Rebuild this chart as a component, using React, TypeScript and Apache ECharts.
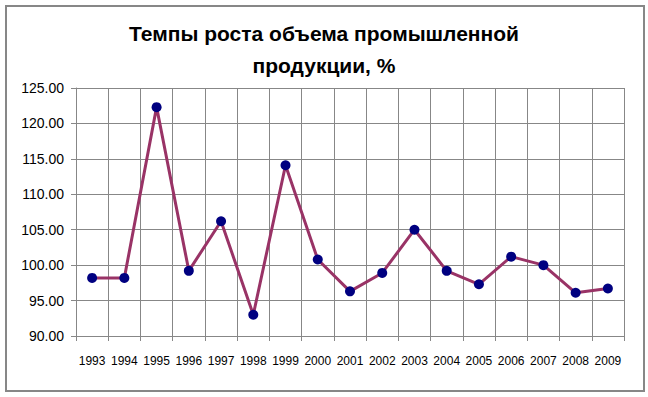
import React, { useEffect, useRef } from "react";
import * as echarts from "echarts";

const years = ["1993","1994","1995","1996","1997","1998","1999","2000","2001","2002","2003","2004","2005","2006","2007","2008","2009"];
const growth = [98.2, 98.2, 122.3, 99.2, 106.2, 93.0, 114.1, 100.8, 96.3, 98.9, 105.0, 99.2, 97.3, 101.2, 100.0, 96.1, 96.7];
const titleLines = ["Темпы роста объема промышленной", "продукции, %"];

export default function App() {
  const ref = useRef<HTMLDivElement>(null);
  useEffect(() => {
    const chart = echarts.init(ref.current!, null, { renderer: "svg" });
    const gray = "#878787";
    chart.setOption({
      animation: false,
      backgroundColor: "#ffffff",
      title: {
        text: titleLines.join("\n"),
        left: "center",
        top: 12,
        textStyle: {
          fontFamily: "Liberation Sans",
          fontWeight: "bold",
          fontSize: 21,
          lineHeight: 32,
          color: "#000000",
        },
      },
      graphic: [
        {
          type: "rect",
          shape: { x: 6, y: 6, width: 638, height: 385 },
          style: { fill: "none", stroke: gray, lineWidth: 2 },
          silent: true,
        },
      ],
      grid: { left: 76, right: 24, top: 88, bottom: 61 },
      xAxis: {
        type: "category",
        data: years,
        boundaryGap: true,
        axisLine: { show: true, lineStyle: { color: gray, width: 1 } },
        axisTick: { show: true, length: 5, lineStyle: { color: gray } },
        splitLine: { show: true, lineStyle: { color: gray, width: 1 } },
        axisLabel: {
          margin: 19,
          fontFamily: "Liberation Sans",
          fontSize: 12,
          color: "#000000",
          interval: 0,
        },
      },
      yAxis: {
        type: "value",
        min: 90,
        max: 125,
        interval: 5,
        axisLine: { show: true, lineStyle: { color: gray, width: 1 } },
        axisTick: { show: true, length: 5, lineStyle: { color: gray } },
        splitLine: { show: true, lineStyle: { color: gray, width: 1 } },
        axisLabel: {
          margin: 12,
          fontFamily: "Liberation Sans",
          fontSize: 14,
          color: "#000000",
          formatter: (v: number) => v.toFixed(2),
        },
      },
      series: [
        {
          type: "line",
          data: growth,
          symbol: "circle",
          symbolSize: 10,
          lineStyle: { color: "#993366", width: 3 },
          itemStyle: { color: "#000080" },
        },
      ],
    });
    return () => chart.dispose();
  }, []);
  return (
    <div
      ref={ref}
      style={{ position: "fixed", left: 0, top: 0, width: 648, height: 397 }}
    />
  );
}
